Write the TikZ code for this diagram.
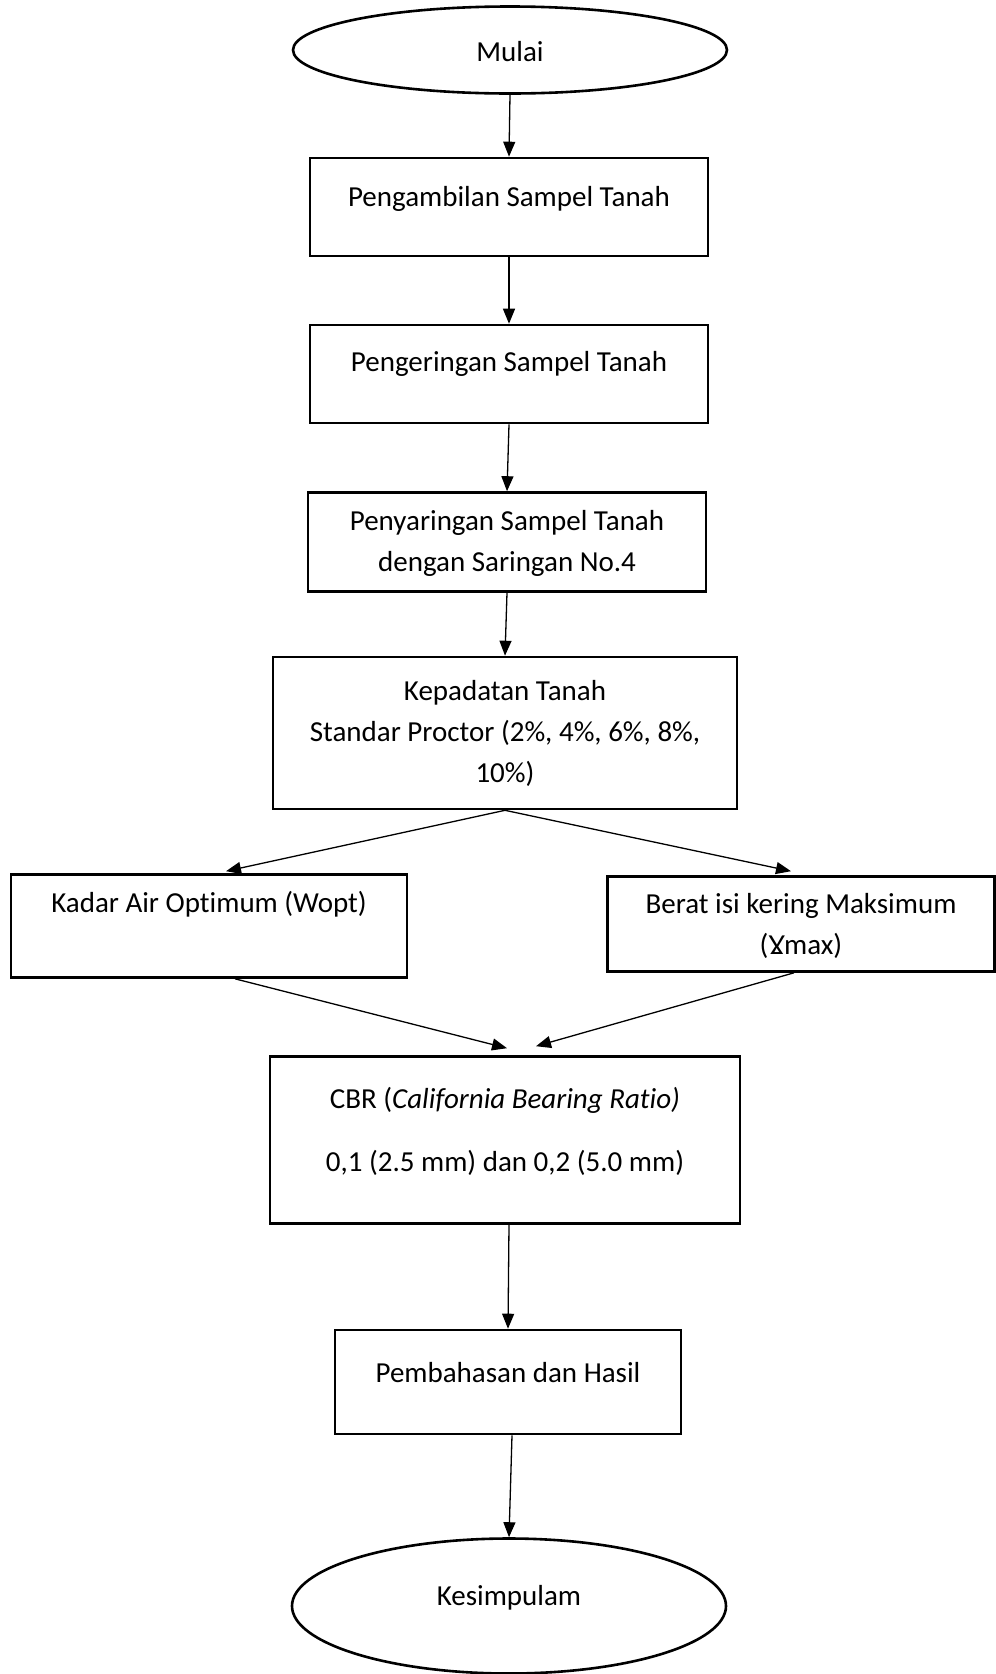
\documentclass[tikz,border=0pt]{standalone}
\usepackage{fontspec}
\setmainfont{Carlito}[Ligatures=CommonOff]
\usetikzlibrary{positioning, arrows.meta, shapes.geometric}

\begin{document}
\begin{tikzpicture}[
  x=1pt, y=-1pt,
  font=\fontsize{29}{41}\selectfont,
  box/.style={draw, line width=2.6pt, rectangle, inner sep=0pt},
  oval/.style={draw, line width=2.6pt, ellipse, inner sep=0pt},
  txt/.style={align=center, inner sep=0pt},
  arr/.style={draw, line width=1.3pt, -{Triangle[length=15pt, width=12pt]}}
]
\useasboundingbox (0,0) rectangle (996,1674);

% start and end
\node[oval, minimum width=434pt, minimum height=87pt] (mulai) at (510,50) {};
\node[txt] (tmulai) at (510,52) {Mulai};
\node[oval, minimum width=434pt, minimum height=135pt] (kesim) at (509,1606) {};
\node[txt] (tkesim) at (509,1598) {Kesimpulam};

% main column
\node[box, minimum width=398pt, minimum height=98pt] (b1) at (509,207) {};
\node[txt] (t1) at (509,199) {Pengambilan Sampel Tanah};
\node[box, minimum width=398pt, minimum height=98pt] (b2) at (509,374) {};
\node[txt] (t2) at (509,364) {Pengeringan Sampel Tanah};
\node[box, minimum width=398pt, minimum height=99pt] (b3) at (507,542) {};
\node[txt] (t3) at (507,543) {Penyaringan Sampel Tanah\\dengan Saringan No.4};
\node[box, minimum width=464pt, minimum height=152pt] (b4) at (505,733) {};
\node[txt] (t4) at (505,733) {Kepadatan Tanah\\Standar Proctor (2\%, 4\%, 6\%, 8\%,\\10\%)};

% results of compaction
\node[box, minimum width=396pt, minimum height=103pt] (kadar) at (209,926) {};
\node[txt] (tkadar) at (209,904) {Kadar Air Optimum (Wopt)};
\node[box, minimum width=387pt, minimum height=95pt] (berat) at (801,924) {};
\node[txt] (tberat) at (801,926) {Berat isi kering Maksimum\\(Ɣmax)};

% CBR and discussion
\node[box, minimum width=470pt, minimum height=167pt] (cbr) at (505,1140) {};
\node[txt] (tcbr) at (505,1131) {CBR (\textit{California Bearing Ratio)}\\[22pt]0,1 (2.5 mm) dan 0,2 (5.0 mm)};
\node[box, minimum width=346pt, minimum height=104pt] (pemb) at (508,1382) {};
\node[txt] (tpemb) at (508,1373) {Pembahasan dan Hasil};

% connectors
\draw[arr] (mulai.south) -- (b1.north);
\draw[arr] (b1.south) -- (b2.north);
\draw[arr] (b2.south) -- (b3.north);
\draw[arr] (b3.south) -- (b4.north);
\draw[arr] (b4.south) -- ([xshift=17pt, yshift=2pt]kadar.north);
\draw[arr] (b4.south) -- ([xshift=-10pt, yshift=4pt]berat.north);
\draw[arr] ([xshift=26pt]kadar.south) -- ([xshift=2pt, yshift=7pt]cbr.north);
\draw[arr] ([xshift=-7pt]berat.south) -- ([xshift=31pt, yshift=9pt]cbr.north);
\draw[arr] ([xshift=4pt]cbr.south) -- (pemb.north);
\draw[arr] ([xshift=4pt]pemb.south) -- (kesim.north);

\end{tikzpicture}
\end{document}
